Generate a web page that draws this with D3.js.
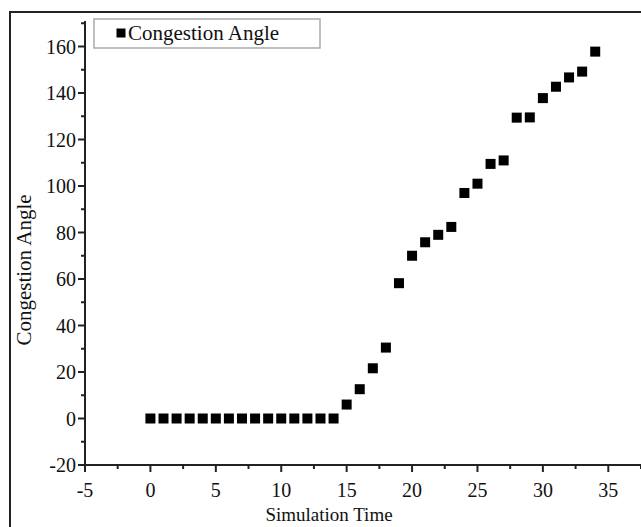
<!DOCTYPE html>
<html>
<head>
<meta charset="utf-8">
<script src="https://cdn.jsdelivr.net/npm/d3@7"></script>
<style>
  body { margin: 0; background: #fff; }
  svg { display: block; font-family: "Liberation Serif", "Times New Roman", serif; }
</style>
</head>
<body>
<div class="chart"></div>
<script>
// simulation time steps and congestion angle
var simTime = [0, 1, 2, 3, 4, 5, 6, 7, 8, 9, 10, 11, 12, 13, 14, 15, 16, 17,
               18, 19, 20, 21, 22, 23, 24, 25, 26, 27, 28, 29, 30, 31, 32, 33, 34];
var congestionAngle = [0, 0, 0, 0, 0, 0, 0, 0, 0, 0, 0, 0, 0, 0, 0, 6, 12.6, 21.6,
                       30.5, 58.2, 70, 75.8, 79, 82.4, 97, 101, 109.5, 111, 129.4, 129.5,
                       137.8, 142.7, 146.7, 149.2, 157.8];
var xTicks = [-5, 0, 5, 10, 15, 20, 25, 30, 35];
var yTicks = [-20, 0, 20, 40, 60, 80, 100, 120, 140, 160];
var seriesName = "Congestion Angle";

var svgWidth = 641;
var svgHeight = 527;

var svg = d3.select(".chart")
    .append("svg")
    .attr("width", svgWidth)
    .attr("height", svgHeight);

// outer frame (right and bottom sides fall outside the picture)
svg.append("rect")
    .attr("x", 10)
    .attr("y", 12)
    .attr("width", 660)
    .attr("height", 560)
    .attr("fill", "none")
    .attr("stroke", "#222")
    .attr("stroke-width", 2);

var xScale = d3.scaleLinear()
    .domain([-5, 35])
    .range([85, 608.3]);

var yScale = d3.scaleLinear()
    .domain([-20, 160])
    .range([465, 46.5]);

var xEnd = 38;
var yTop = 171;

var axisColor = "#222";

// x axis
var xAxis = svg.append("g")
    .attr("transform", "translate(0," + yScale(-20) + ")");
xAxis.append("line")
    .attr("x1", xScale(-5)).attr("x2", xScale(xEnd))
    .attr("stroke", axisColor).attr("stroke-width", 2);
xAxis.selectAll(".minor")
    .data(d3.range(-2.5, xEnd, 5))
    .enter().append("line")
    .attr("x1", d => xScale(d)).attr("x2", d => xScale(d))
    .attr("y1", 0).attr("y2", 4)
    .attr("stroke", axisColor).attr("stroke-width", 2);
xAxis.selectAll(".major")
    .data(xTicks)
    .enter().append("line")
    .attr("x1", d => xScale(d)).attr("x2", d => xScale(d))
    .attr("y1", 0).attr("y2", 7)
    .attr("stroke", axisColor).attr("stroke-width", 2);
xAxis.selectAll("text")
    .data(xTicks)
    .enter().append("text")
    .attr("x", d => xScale(d))
    .attr("y", 32)
    .attr("text-anchor", "middle")
    .attr("font-size", 20)
    .attr("fill", "#111")
    .text(d => d);

// y axis
var yAxis = svg.append("g")
    .attr("transform", "translate(" + xScale(-5) + ",0)");
yAxis.append("line")
    .attr("y1", yScale(-20)).attr("y2", yScale(yTop))
    .attr("stroke", axisColor).attr("stroke-width", 2);
yAxis.selectAll(".minor")
    .data(d3.range(-10, yTop, 20))
    .enter().append("line")
    .attr("y1", d => yScale(d)).attr("y2", d => yScale(d))
    .attr("x1", 0).attr("x2", -4)
    .attr("stroke", axisColor).attr("stroke-width", 2);
yAxis.selectAll(".major")
    .data(yTicks)
    .enter().append("line")
    .attr("y1", d => yScale(d)).attr("y2", d => yScale(d))
    .attr("x1", 0).attr("x2", -7)
    .attr("stroke", axisColor).attr("stroke-width", 2);
yAxis.selectAll("text")
    .data(yTicks)
    .enter().append("text")
    .attr("x", -9)
    .attr("y", d => yScale(d))
    .attr("dy", "0.35em")
    .attr("text-anchor", "end")
    .attr("font-size", 20)
    .attr("fill", "#111")
    .text(d => d);

// axis titles
svg.append("text")
    .attr("x", 329)
    .attr("y", 521)
    .attr("text-anchor", "middle")
    .attr("font-size", 19)
    .attr("fill", "#111")
    .text("Simulation Time");

svg.append("text")
    .attr("transform", "translate(31,270) rotate(-90)")
    .attr("text-anchor", "middle")
    .attr("font-size", 21)
    .attr("fill", "#111")
    .text("Congestion Angle");

// points
var points = simTime.map((t, i) => ({x: t, y: congestionAngle[i]}));
svg.selectAll(".pt")
    .data(points)
    .enter().append("rect")
    .attr("class", "pt")
    .attr("x", d => xScale(d.x) - 5)
    .attr("y", d => yScale(d.y) - 5)
    .attr("width", 10)
    .attr("height", 10)
    .attr("fill", "#000");

// legend
var legend = svg.append("g");
legend.append("rect")
    .attr("x", 94).attr("y", 19)
    .attr("width", 226).attr("height", 29)
    .attr("fill", "#fff")
    .attr("stroke", "#aaa")
    .attr("stroke-width", 1.5);
legend.append("rect")
    .attr("x", 116.5).attr("y", 28.5)
    .attr("width", 9).attr("height", 9)
    .attr("fill", "#000");
legend.append("text")
    .attr("x", 128)
    .attr("y", 40)
    .attr("font-size", 21)
    .attr("fill", "#111")
    .text(seriesName);
</script>
</body>
</html>
